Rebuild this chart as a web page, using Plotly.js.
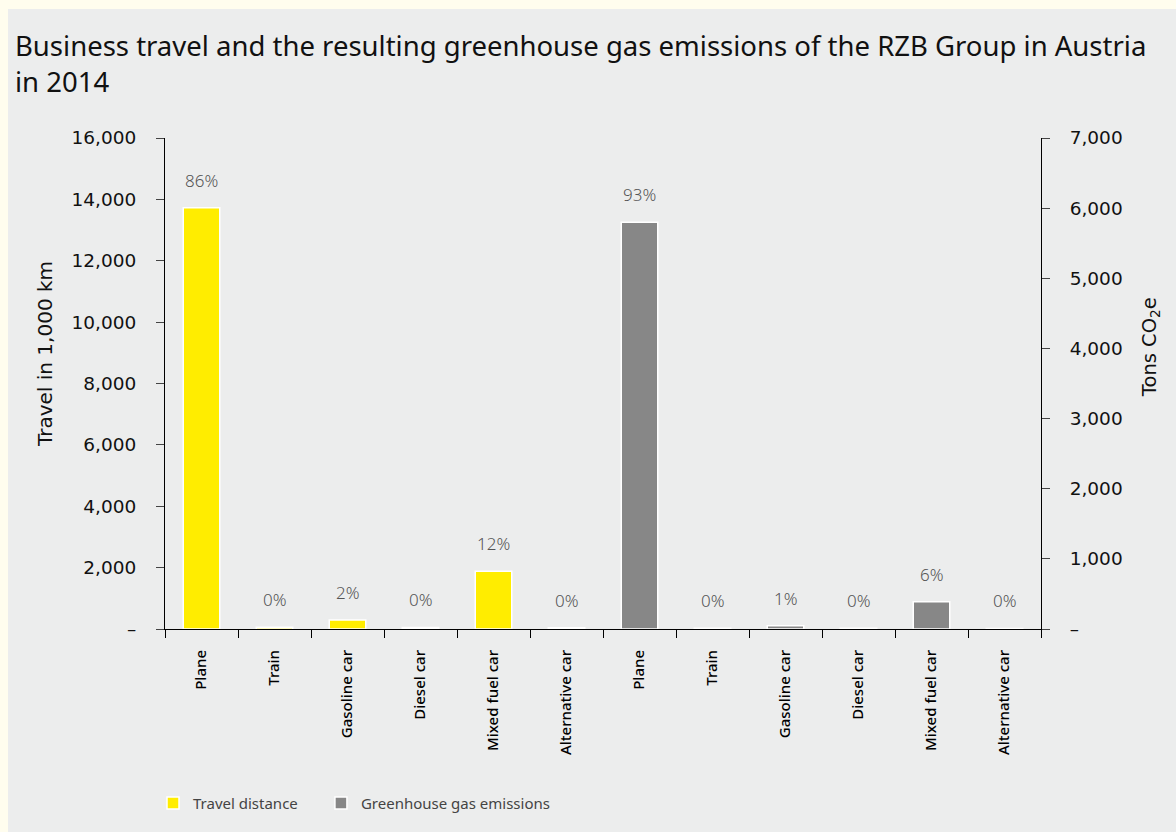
<!DOCTYPE html>
<html>
<head>
<meta charset="utf-8">
<script src="https://cdn.plot.ly/plotly-3.0.1.min.js"></script>
<style>
  html, body { margin: 0; padding: 0; background: #FFFDEE; width: 1176px; height: 832px; overflow: hidden; }
  #chart { position: absolute; left: 8px; top: 9px; width: 1168px; height: 823px; }
</style>
</head>
<body>
<div id="chart"></div>
<script>
// ---- data ----
const categories = ["Plane", "Train", "Gasoline car", "Diesel car", "Mixed fuel car", "Alternative car"];
const travelDistance = [13730, 60, 290, 50, 1880, 40];      // 1,000 km
const travelShare = ["86%", "0%", "2%", "0%", "12%", "0%"];
const emissions = [5800, 10, 45, 12, 390, 8];                 // tons CO2e
const emissionsShare = ["93%", "0%", "1%", "0%", "6%", "0%"];
const leftTickVals = [0, 2000, 4000, 6000, 8000, 10000, 12000, 14000, 16000];
const leftTickText = ["–", "2,000", "4,000", "6,000", "8,000", "10,000", "12,000", "14,000", "16,000"];
const rightTickVals = [0, 1000, 2000, 3000, 4000, 5000, 6000, 7000];
const rightTickText = ["–", "1,000", "2,000", "3,000", "4,000", "5,000", "6,000", "7,000"];
const leftTitle = "Travel in 1,000 km";
const rightTitle = "Tons CO<sub>2</sub>e";

// ---- positions ----
const n = categories.length;
const xTravel = categories.map((_, i) => i);
const xEmis = categories.map((_, i) => i + n);
const allTickVals = xTravel.concat(xEmis);
const allTickText = categories.concat(categories);

const FONT = "Noto Sans, Lato, sans-serif";
const AXFONT = "DejaVu Sans, sans-serif";

const traces = [
  {
    type: "bar", name: "Travel distance", legend: "legend",
    x: xTravel, y: travelDistance, yaxis: "y",
    width: 0.5,
    marker: { color: "#FFED00", line: { color: "#FFFFFF", width: 1.5 } },
    hoverinfo: "x+y"
  },
  {
    type: "bar", name: "Greenhouse gas emissions", legend: "legend2",
    x: xEmis, y: emissions, yaxis: "y2",
    width: 0.5,
    marker: { color: "#878787", line: { color: "#FFFFFF", width: 1.5 } },
    hoverinfo: "x+y"
  }
];

const annotations = [];
xTravel.forEach((x, i) => annotations.push({
  x: x, y: travelDistance[i], xref: "x", yref: "y", text: travelShare[i],
  showarrow: false, yanchor: "bottom", yshift: 14,
  font: { family: FONT, size: 17, color: "#555555", weight: 300 }
}));
xEmis.forEach((x, i) => annotations.push({
  x: x, y: emissions[i], xref: "x", yref: "y2", text: emissionsShare[i],
  showarrow: false, yanchor: "bottom", yshift: 14,
  font: { family: FONT, size: 17, color: "#555555", weight: 300 }
}));
// axis titles (placed as rotated annotations to match the reference's vertical position)
annotations.push({
  text: leftTitle, xref: "paper", yref: "paper", x: -0.137, y: 0.56,
  xanchor: "center", yanchor: "middle", textangle: -90, showarrow: false,
  font: { family: AXFONT, size: 20, color: "#111111" }
});
annotations.push({
  text: rightTitle, xref: "paper", yref: "paper", x: 1.1244, y: 0.574,
  xanchor: "center", yanchor: "middle", textangle: -90, showarrow: false,
  font: { family: AXFONT, size: 19.5, color: "#111111" }
});

const legendFont = { family: FONT, size: 15, color: "#444444" };

const layout = {
  width: 1168, height: 823,
  paper_bgcolor: "#ECEDED", plot_bgcolor: "#ECEDED",
  margin: { l: 157, r: 135, t: 129, b: 199 },
  font: { family: FONT, color: "#111111" },
  title: {
    text: "Business travel and the resulting greenhouse gas emissions of the RZB Group in Austria<br>in 2014",
    font: { family: FONT, size: 27.5, color: "#111111" },
    x: 0.006, xanchor: "left", xref: "container",
    y: 0.943, yanchor: "top", yref: "container"
  },
  barmode: "overlay",
  showlegend: true,
  legend: {
    orientation: "h", x: -0.0137, xanchor: "left", y: -0.355, yanchor: "middle",
    font: legendFont, bgcolor: "rgba(0,0,0,0)"
  },
  legend2: {
    orientation: "h", x: 0.178, xanchor: "left", y: -0.355, yanchor: "middle",
    font: legendFont, bgcolor: "rgba(0,0,0,0)"
  },
  xaxis: {
    range: [-0.5, 2 * n - 0.5],
    tickmode: "array", tickvals: allTickVals, ticktext: allTickText,
    tickangle: -90, ticks: "", ticklabelstandoff: 14,
    tickfont: { family: FONT, size: 15, color: "#000000", weight: 500 },
    showline: true, linecolor: "#000000", linewidth: 1,
    showgrid: false, zeroline: false, fixedrange: true,
    minor: { tickmode: "linear", tick0: -0.5, dtick: 1, ticks: "outside", ticklen: 8, tickcolor: "#000000", tickwidth: 1, showgrid: false }
  },
  yaxis: {
    range: [0, 16000],
    tickmode: "array", tickvals: leftTickVals, ticktext: leftTickText,
    ticks: "outside", ticklen: 8, tickcolor: "#444444", tickwidth: 1, ticklabelstandoff: 16,
    tickfont: { family: AXFONT, size: 18.5, color: "#111111" },
    showline: true, linecolor: "#000000", linewidth: 1,
    showgrid: false, zeroline: false, fixedrange: true
  },
  yaxis2: {
    range: [0, 7000], overlaying: "y", side: "right",
    tickmode: "array", tickvals: rightTickVals, ticktext: rightTickText,
    ticks: "outside", ticklen: 8, tickcolor: "#444444", tickwidth: 1, ticklabelstandoff: 16,
    tickfont: { family: AXFONT, size: 18.5, color: "#111111" },
    showline: true, linecolor: "#000000", linewidth: 1,
    showgrid: false, zeroline: false, fixedrange: true
  },
  annotations: annotations
};

Plotly.newPlot("chart", traces, layout, { displayModeBar: false, responsive: false });
</script>
</body>
</html>
